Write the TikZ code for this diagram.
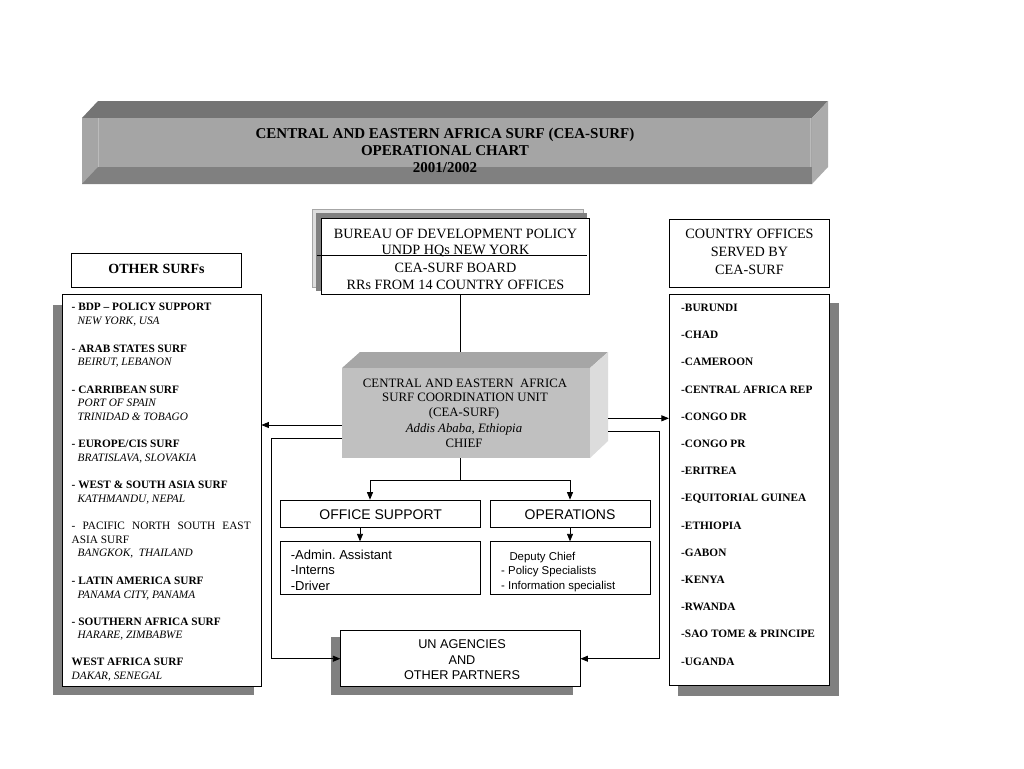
\documentclass[tikz,border=0pt]{standalone}
\usepackage{fontspec}
\setmainfont{Liberation Serif}
\newfontfamily\arialf{Liberation Sans}
\usetikzlibrary{arrows.meta}
\definecolor{shd}{HTML}{808080}
\definecolor{topdark}{HTML}{747474}
\definecolor{frontgray}{HTML}{A5A5A5}
\definecolor{bandgray}{HTML}{808080}
\definecolor{sidegray}{HTML}{ABABAB}
\definecolor{cufront}{HTML}{C0C0C0}
\definecolor{cutop}{HTML}{A6A6A6}
\definecolor{cuside}{HTML}{DCDCDC}
\definecolor{lightshd}{HTML}{DDDDDD}
\newcommand\fsList{\fontsize{11.3}{13}\selectfont}
\newcommand\fsBig{\fontsize{14.2}{16}\selectfont}
\newcommand\fsCU{\fontsize{12.8}{15}\selectfont}
\begin{document}
\frenchspacing
\begin{tikzpicture}[x=1pt,y=-1pt,
  box/.style={draw=black, line width=0.8pt, fill=white, inner sep=0pt},
  ln/.style={line width=0.8pt},
  arr/.style={line width=0.8pt, -{Triangle[length=7.5pt,width=6pt]}},
  tc/.style={inner sep=0pt, anchor=base},
  tl/.style={inner sep=0pt, anchor=base west},
  lb/.style={tl, font=\fsList\bfseries},
  li/.style={tl, font=\fsList\itshape},
  lr/.style={tl, font=\fsList},
  rb/.style={tl, font=\fsList\bfseries},
]
\useasboundingbox (0,0) rectangle (1024,768);
\fill[white] (0,0) rectangle (1024,768);

% ---------- title banner ----------
\fill[topdark] (82,118) -- (98,101) -- (828,101) -- (812,118) -- cycle;
\fill[frontgray] (82,118) rectangle (812,184);
\fill[bandgray] (82,184) -- (98,167) -- (812,167) -- (812,184) -- cycle;
\fill[sidegray] (812,118) -- (828,101) -- (828,167) -- (812,184) -- cycle;
\draw[line width=0.5pt, color=white!25!frontgray] (98,118) -- (98,167);
\draw[line width=0.5pt, color=white!25!frontgray] (810,118) -- (810,167);
\node[tc, font=\fontsize{15}{17}\selectfont\bfseries] (title1) at (445,138) {CENTRAL AND EASTERN AFRICA SURF (CEA-SURF)};
\node[tc, font=\fontsize{15}{17}\selectfont\bfseries] (title2) at (445,155) {OPERATIONAL CHART};
\node[tc, font=\fontsize{15}{17}\selectfont\bfseries] (title3) at (445,172) {2001/2002};

% ---------- BDP box ----------
\filldraw[fill=lightshd, draw=gray!70, line width=0.5pt] (312,209) rectangle (583,287);
\fill[shd] (316,213) rectangle (587,291);
\node[box, minimum width=268, minimum height=76] (bdp) at (455,256) {};
\draw[ln] (317,255.7) -- (587,255.7);
\node[tc, font=\fsBig] (bdp1) at (455.5,238.5) {BUREAU OF DEVELOPMENT POLICY};
\node[tc, font=\fsBig] (bdp2) at (455.5,254.5) {UNDP HQs NEW YORK};
\node[tc, font=\fsBig] (bdp3) at (455.5,272) {CEA-SURF BOARD};
\node[tc, font=\fsBig] (bdp4) at (455.5,289) {RRs FROM 14 COUNTRY OFFICES};

% ---------- central unit (3D box) ----------
\fill[cutop] (342,368) -- (360,352) -- (608,352) -- (590,368) -- cycle;
\fill[cuside] (590,368) -- (608,352) -- (608,441) -- (590,458) -- cycle;
\node[fill=cufront, draw=none, inner sep=0pt, minimum width=248, minimum height=90] (cu) at (466,413) {};
\node[tc, font=\fsCU] (cu1) at (465,387) {CENTRAL AND EASTERN\ \ AFRICA};
\node[tc, font=\fsCU] (cu2) at (465,401.3) {SURF COORDINATION UNIT};
\node[tc, font=\fsCU] (cu3) at (464,416) {(CEA-SURF)};
\node[tc, font=\fsCU\itshape] (cu4) at (464,432.2) {Addis Ababa, Ethiopia};
\node[tc, font=\fsCU] (cu5) at (464,447.2) {CHIEF};

% ---------- left side ----------
\node[box, minimum width=170, minimum height=34] (osurf) at (156.7,270.3) {};
\node[tc, font=\fontsize{14}{16}\selectfont\bfseries] (osurft) at (156.5,273.3) {OTHER SURFs};
\fill[shd] (53,305) rectangle (254,695);
\node[box, minimum width=199, minimum height=392] (lst) at (161.5,490) {};
\node[lb] (l1)  at (71.5,310.5) {- BDP -- POLICY SUPPORT};
\node[li] (l2)  at (77.5,324.5) {NEW YORK, USA};
\node[lb] (l3)  at (71.5,352) {- ARAB STATES SURF};
\node[li] (l4)  at (77.5,365.5) {BEIRUT, LEBANON};
\node[lb] (l5)  at (71.5,393) {- CARRIBEAN SURF};
\node[li] (l6)  at (77.5,406.5) {PORT OF SPAIN};
\node[li] (l7)  at (77.5,420) {TRINIDAD \& TOBAGO};
\node[lb] (l8)  at (71.5,447.5) {- EUROPE/CIS SURF};
\node[li] (l9)  at (77.5,461) {BRATISLAVA, SLOVAKIA};
\node[lb] (l10) at (71.5,488) {- WEST \& SOUTH ASIA SURF};
\node[li] (l11) at (77.5,502) {KATHMANDU, NEPAL};
\node[lr] (l12) at (71.5,529) {\makebox[179pt][s]{- PACIFIC NORTH SOUTH EAST}};
\node[lr] (l13) at (71.5,543) {ASIA SURF};
\node[li] (l14) at (77.5,556.5) {BANGKOK,\ \ THAILAND};
\node[lb] (l15) at (71.5,584) {- LATIN AMERICA SURF};
\node[li] (l16) at (77.5,598) {PANAMA CITY, PANAMA};
\node[lb] (l17) at (71.5,625) {- SOUTHERN AFRICA SURF};
\node[li] (l18) at (77.5,638.5) {HARARE, ZIMBABWE};
\node[lb] (l19) at (71.5,665.5) {WEST AFRICA SURF};
\node[li] (l20) at (71.5,679.5) {DAKAR, SENEGAL};

% ---------- right side ----------
\node[box, minimum width=160, minimum height=68.7] (cob) at (749.3,253.3) {};
\node[tc, font=\fsBig] (cob1) at (749.5,238) {COUNTRY OFFICES};
\node[tc, font=\fsBig] (cob2) at (749.5,256.4) {SERVED BY};
\node[tc, font=\fsBig] (cob3) at (749.5,274.7) {CEA-SURF};
\fill[shd] (678,303) rectangle (839,696);
\node[box, minimum width=160, minimum height=391.4] (rl) at (749.3,490) {};
\foreach \t [count=\i from 0] in {-BURUNDI,-CHAD,-CAMEROON,-CENTRAL AFRICA REP,-CONGO DR,-CONGO PR,-ERITREA,-EQUITORIAL GUINEA,-ETHIOPIA,-GABON,-KENYA,-RWANDA,-SAO TOME \& PRINCIPE,-UGANDA}
  \node[rb] (r\i) at (681,311.5+27.2*\i) {\t};

% ---------- office support / operations ----------
\node[box, minimum width=200, minimum height=27.7] (os) at (380.7,513.9) {};
\node[tc, font=\arialf\fontsize{14}{16}\selectfont] (ost) at (380.7,519.5) {OFFICE SUPPORT};
\node[box, minimum width=160, minimum height=27.7] (ops) at (570,513.9) {};
\node[tc, font=\arialf\fontsize{14}{16}\selectfont] (opst) at (570,519.5) {OPERATIONS};
\node[box, minimum width=200, minimum height=52.3] (oss) at (380.7,567.9) {};
\node[tl, font=\arialf\fontsize{13}{15}\selectfont] (oss1) at (290.7,559.7) {-Admin. Assistant};
\node[tl, font=\arialf\fontsize{13}{15}\selectfont] (oss2) at (290.7,574.7) {-Interns};
\node[tl, font=\arialf\fontsize{13}{15}\selectfont] (oss3) at (290.7,590) {-Driver};
\node[box, minimum width=160, minimum height=52.3] (opss) at (570,567.9) {};
\node[tl, font=\arialf\fontsize{11.4}{13}\selectfont] (opss1) at (509.3,560.8) {Deputy Chief};
\node[tl, font=\arialf\fontsize{11.4}{13}\selectfont] (opss2) at (501,574.8) {- Policy Specialists};
\node[tl, font=\arialf\fontsize{11.4}{13}\selectfont] (opss3) at (501,589.1) {- Information specialist};

% ---------- UN agencies ----------
\fill[shd] (331,637) rectangle (573,695);
\node[box, minimum width=239.3, minimum height=56] (un) at (460.4,658.7) {};
\node[tc, font=\arialf\fontsize{12.7}{15}\selectfont] (un1) at (462,648.9) {UN AGENCIES};
\node[tc, font=\arialf\fontsize{12.7}{15}\selectfont] (un2) at (462,664.5) {AND};
\node[tc, font=\arialf\fontsize{12.7}{15}\selectfont] (un3) at (462,679.5) {OTHER PARTNERS};

% ---------- connectors ----------
\coordinate (spT) at (460,352);
\coordinate (j) at (460,480);
\coordinate (aL) at (370,480);
\coordinate (aR) at (570,480);
\coordinate (cuR) at (608,413);
\coordinate (yA) at (0,425);
\coordinate (yB) at (0,418.3);
\coordinate (yC) at (0,438.3);
\coordinate (yD) at (0,431.7);
\coordinate (xL) at (271.7,0);
\coordinate (xR) at (659.5,0);
\coordinate (s1) at (360,0);

\draw[ln] (bdp.south -| spT) -- (spT);
\draw[ln] (cu.south -| j) -- (j);
\draw[ln] (aL) -- (aR);
\draw[arr] (aL) -- (aL |- os.north);
\draw[arr] (aR) -- (aR |- ops.north);
\draw[arr] (s1 |- os.south) -- (s1 |- oss.north);
\draw[arr] (ops.south) -- (opss.north);
\draw[arr] (cu.west |- yA) -- (lst.east |- yA);
\draw[arr] (cuR |- yB) -- (rl.west |- yB);
\draw[arr] (cu.west |- yC) -- (xL |- yC) -- (xL |- un.west) -- (un.west);
\draw[arr] (cuR |- yD) -- (xR |- yD) -- (xR |- un.east) -- (un.east);
\end{tikzpicture}
\end{document}
